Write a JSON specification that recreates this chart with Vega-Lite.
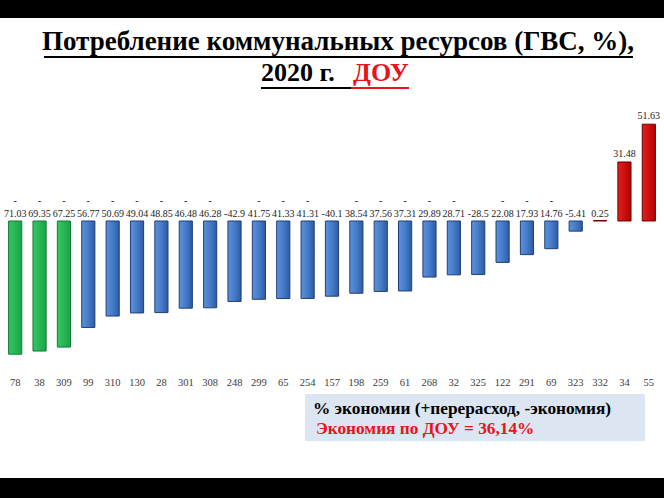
{
  "$schema": "https://vega.github.io/schema/vega-lite/v6.json",
  "width": 658,
  "height": 260,
  "autosize": "none",
  "padding": {"left": 3, "top": 100, "right": 3, "bottom": 138},
  "background": "black",
  "config": {"view": {"stroke": null}, "font": "Liberation Serif, Times New Roman, serif"},
  "data": {
    "values": [
      {"dou": "78", "value": -71.03, "lab": "71.03", "minus": "-", "grp": "green"},
      {"dou": "38", "value": -69.35, "lab": "69.35", "minus": "-", "grp": "green"},
      {"dou": "309", "value": -67.25, "lab": "67.25", "minus": "-", "grp": "green"},
      {"dou": "99", "value": -56.77, "lab": "56.77", "minus": "-", "grp": "blue"},
      {"dou": "310", "value": -50.69, "lab": "50.69", "minus": "-", "grp": "blue"},
      {"dou": "130", "value": -49.04, "lab": "49.04", "minus": "-", "grp": "blue"},
      {"dou": "28", "value": -48.85, "lab": "48.85", "minus": "-", "grp": "blue"},
      {"dou": "301", "value": -46.48, "lab": "46.48", "minus": "-", "grp": "blue"},
      {"dou": "308", "value": -46.28, "lab": "46.28", "minus": "-", "grp": "blue"},
      {"dou": "248", "value": -42.9, "lab": "-42.9", "minus": "", "grp": "blue"},
      {"dou": "299", "value": -41.75, "lab": "41.75", "minus": "-", "grp": "blue"},
      {"dou": "65", "value": -41.33, "lab": "41.33", "minus": "-", "grp": "blue"},
      {"dou": "254", "value": -41.31, "lab": "41.31", "minus": "-", "grp": "blue"},
      {"dou": "157", "value": -40.1, "lab": "-40.1", "minus": "", "grp": "blue"},
      {"dou": "198", "value": -38.54, "lab": "38.54", "minus": "-", "grp": "blue"},
      {"dou": "259", "value": -37.56, "lab": "37.56", "minus": "-", "grp": "blue"},
      {"dou": "61", "value": -37.31, "lab": "37.31", "minus": "-", "grp": "blue"},
      {"dou": "268", "value": -29.89, "lab": "29.89", "minus": "-", "grp": "blue"},
      {"dou": "32", "value": -28.71, "lab": "28.71", "minus": "-", "grp": "blue"},
      {"dou": "325", "value": -28.5, "lab": "-28.5", "minus": "", "grp": "blue"},
      {"dou": "122", "value": -22.08, "lab": "22.08", "minus": "-", "grp": "blue"},
      {"dou": "291", "value": -17.93, "lab": "17.93", "minus": "-", "grp": "blue"},
      {"dou": "69", "value": -14.76, "lab": "14.76", "minus": "-", "grp": "blue"},
      {"dou": "323", "value": -5.41, "lab": "-5.41", "minus": "", "grp": "blue"},
      {"dou": "332", "value": 0.25, "lab": "0.25", "minus": "", "grp": "red"},
      {"dou": "34", "value": 31.48, "lab": "31.48", "minus": "", "grp": "red"},
      {"dou": "55", "value": 51.63, "lab": "51.63", "minus": "", "grp": "red"}
    ]
  },
  "encoding": {
    "x": {
      "field": "dou",
      "type": "nominal",
      "sort": null,
      "scale": {"paddingInner": 0.46, "paddingOuter": 0.23},
      "axis": {
        "title": null,
        "labelAngle": 0,
        "domain": false,
        "ticks": false,
        "zindex": 2,
        "labelPadding": 17,
        "labelFont": "Liberation Serif, Times New Roman, serif",
        "labelFontSize": 10.5,
        "labelColor": "#3a3a3a"
      }
    }
  },
  "layer": [
    {
      "data": {"values": [{}]},
      "mark": {"type": "rect", "fill": "white"},
      "encoding": {"x": {"value": -3}, "x2": {"value": 661}, "y": {"value": -82}, "y2": {"value": 378}}
    },
    {
      "transform": [{"filter": "datum.grp == 'green'"}],
      "mark": {
        "type": "bar",
        "stroke": "#137a37",
        "strokeWidth": 1,
        "color": {"gradient": "linear", "x1": 0, "x2": 1, "y1": 0, "y2": 0,
          "stops": [{"offset": 0, "color": "#34c763"}, {"offset": 1, "color": "#1ba34a"}]}
      },
      "encoding": {
        "y": {"field": "value", "type": "quantitative", "scale": {"domain": [-74.13, 64.53], "nice": false, "zero": false}, "axis": null},
        "y2": {"datum": 0}
      }
    },
    {
      "transform": [{"filter": "datum.grp == 'blue'"}],
      "mark": {
        "type": "bar",
        "stroke": "#1f3f78",
        "strokeWidth": 1,
        "color": {"gradient": "linear", "x1": 0, "x2": 1, "y1": 0, "y2": 0,
          "stops": [{"offset": 0, "color": "#5c92da"}, {"offset": 0.5, "color": "#467bc9"}, {"offset": 1, "color": "#2d5ba2"}]}
      },
      "encoding": {
        "y": {"field": "value", "type": "quantitative", "axis": null},
        "y2": {"datum": 0}
      }
    },
    {
      "transform": [{"filter": "datum.grp == 'red'"}],
      "mark": {
        "type": "bar",
        "stroke": "#6b0000",
        "strokeWidth": 1,
        "color": {"gradient": "linear", "x1": 0, "x2": 1, "y1": 0, "y2": 0,
          "stops": [{"offset": 0, "color": "#e3211d"}, {"offset": 1, "color": "#b30000"}]}
      },
      "encoding": {
        "y": {"field": "value", "type": "quantitative", "axis": null},
        "y2": {"datum": 0}
      }
    },
    {
      "transform": [{"filter": "datum.value < 1"}],
      "mark": {"type": "text", "fontSize": 10, "color": "#222", "baseline": "middle", "dy": -7},
      "encoding": {
        "y": {"datum": 0},
        "text": {"field": "lab"}
      }
    },
    {
      "transform": [{"filter": "datum.value >= 1"}],
      "mark": {"type": "text", "fontSize": 10, "color": "#222", "baseline": "middle", "dy": -8},
      "encoding": {
        "y": {"field": "value", "type": "quantitative"},
        "text": {"field": "lab"}
      }
    },
    {
      "mark": {"type": "text", "fontSize": 10, "fontWeight": "bold", "color": "#333", "baseline": "middle", "dy": -20},
      "encoding": {
        "y": {"datum": 0},
        "text": {"field": "minus"}
      }
    },
    {
      "data": {"values": [{}]},
      "mark": {"type": "text", "text": "Потребление коммунальных ресурсов (ГВС, %),", "fontSize": 27, "fontWeight": "bold", "color": "black", "align": "center", "baseline": "middle"},
      "encoding": {"x": {"value": 335}, "y": {"value": -58}}
    },
    {
      "data": {"values": [{}]},
      "mark": {"type": "text", "text": "2020 г.", "fontSize": 26, "fontWeight": "bold", "color": "black", "align": "left", "baseline": "middle"},
      "encoding": {"x": {"value": 258}, "y": {"value": -27}}
    },
    {
      "data": {"values": [{}]},
      "mark": {"type": "text", "text": "ДОУ", "fontSize": 26, "fontWeight": "bold", "color": "#e8141c", "align": "left", "baseline": "middle"},
      "encoding": {"x": {"value": 350}, "y": {"value": -27}}
    },
    {
      "data": {"values": [{}]},
      "mark": {"type": "rule", "color": "black", "strokeWidth": 2},
      "encoding": {"x": {"value": 41}, "x2": {"value": 630}, "y": {"value": -43}}
    },
    {
      "data": {"values": [{}]},
      "mark": {"type": "rule", "color": "black", "strokeWidth": 2},
      "encoding": {"x": {"value": 258}, "x2": {"value": 348}, "y": {"value": -12}}
    },
    {
      "data": {"values": [{}]},
      "mark": {"type": "rule", "color": "#e8141c", "strokeWidth": 2},
      "encoding": {"x": {"value": 348}, "x2": {"value": 406}, "y": {"value": -12}}
    },
    {
      "data": {"values": [{}]},
      "mark": {"type": "rect", "fill": "#dce6f2"},
      "encoding": {"x": {"value": 302}, "x2": {"value": 642}, "y": {"value": 294}, "y2": {"value": 341}}
    },
    {
      "data": {"values": [{}]},
      "mark": {"type": "text", "text": "% экономии (+перерасход, -экономия)", "fontSize": 17.3, "fontWeight": "bold", "color": "black", "align": "left", "baseline": "middle"},
      "encoding": {"x": {"value": 310}, "y": {"value": 309}}
    },
    {
      "data": {"values": [{}]},
      "mark": {"type": "text", "text": "Экономия по ДОУ = 36,14%", "fontSize": 17.3, "fontWeight": "bold", "color": "#e8141c", "align": "left", "baseline": "middle"},
      "encoding": {"x": {"value": 313}, "y": {"value": 329}}
    }
  ]
}
